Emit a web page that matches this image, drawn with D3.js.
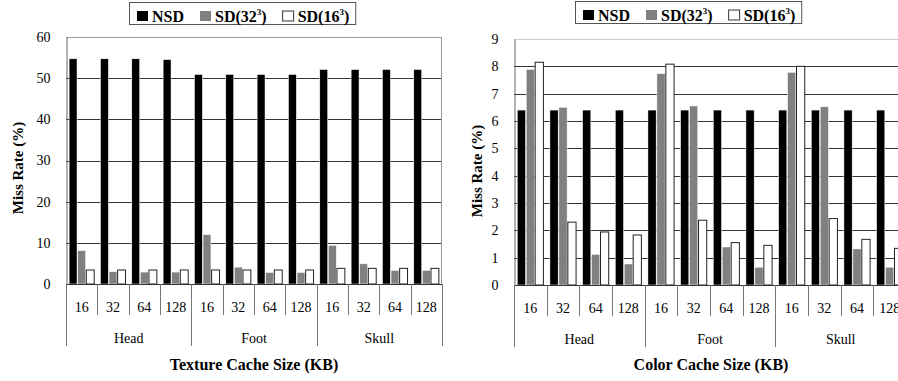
<!DOCTYPE html>
<html>
<head>
<meta charset="utf-8">
<title>Miss Rate</title>
<script src="https://cdn.jsdelivr.net/npm/d3@7"></script>
<style>
  body { margin:0; background:#fff; }
  svg, svg text { font-family:"Liberation Serif","DejaVu Serif",serif; }
  .grid line { stroke:#333; stroke-width:1; }
</style>
</head>
<body>
<div id="chart"></div>
<script>
// categories
var models = ["Head", "Foot", "Skull"];
var sizes = ["16", "32", "64", "128"];
var series = ["NSD", "SD(32", "SD(16"];

// texture cache miss rate (%), order: Head 16..128, Foot 16..128, Skull 16..128
var texNSD  = [54.7, 54.7, 54.7, 54.5, 50.9, 50.9, 50.9, 50.9, 52.1, 52.1, 52.1, 52.1];
var texSD32 = [8.1, 3.0, 2.9, 2.9, 12.0, 4.1, 2.8, 2.8, 9.4, 4.9, 3.3, 3.3];
var texSD16 = [3.4, 3.4, 3.4, 3.4, 3.4, 3.4, 3.4, 3.4, 3.8, 3.8, 3.8, 3.8];
var texTicks = [0, 10, 20, 30, 40, 50, 60];

// color cache miss rate (%)
var colNSD  = [6.4, 6.4, 6.4, 6.4, 6.4, 6.4, 6.4, 6.4, 6.4, 6.4, 6.4, 6.4];
var colSD32 = [7.89, 6.5, 1.12, 0.77, 7.73, 6.55, 1.39, 0.65, 7.78, 6.52, 1.32, 0.65];
var colSD16 = [8.15, 2.3, 1.94, 1.83, 8.08, 2.37, 1.55, 1.45, 8.0, 2.43, 1.67, 1.34];
var colTicks = [0, 1, 2, 3, 4, 5, 6, 7, 8, 9];

var fills = ["#000", "#808080", "#fff"];
var serif = "Liberation Serif, DejaVu Serif, serif";

var svg = d3.select("#chart").append("svg")
  .attr("width", 898)
  .attr("height", 381)
  .attr("font-family", serif);

function drawChart(opt) {
  var cats = [];
  models.forEach(function(m){ sizes.forEach(function(s){ cats.push(m + "|" + s); }); });
  var rows = cats.map(function(c, i){ return {cat:c, vals:[opt.a[i], opt.b[i], opt.c[i]]}; });

  var x = d3.scaleBand().domain(cats).range([opt.left, opt.right]);
  var x1 = d3.scaleBand().domain([0,1,2]).range([x.bandwidth()*0.1, x.bandwidth()*0.9]).paddingInner(0.08);
  var y = d3.scaleLinear().domain([0, d3.max(opt.ticks)]).range([opt.bottom, opt.top]);

  var g = svg.append("g").attr("font-family", serif);

  // gridlines
  g.append("g").attr("class","grid")
    .selectAll("line").data(opt.ticks.slice(1, -1)).enter().append("line")
    .attr("x1", opt.left).attr("x2", opt.right)
    .attr("y1", function(d){ return Math.round(y(d)) + 0.5; })
    .attr("y2", function(d){ return Math.round(y(d)) + 0.5; });

  // frame top/right
  g.append("line").attr("x1", opt.left).attr("x2", opt.right)
    .attr("y1", Math.round(y(d3.max(opt.ticks))) + 0.5).attr("y2", Math.round(y(d3.max(opt.ticks))) + 0.5)
    .attr("stroke", opt.frame);
  g.append("line").attr("x1", opt.right - 0.5).attr("x2", opt.right - 0.5)
    .attr("y1", opt.top).attr("y2", opt.bottom).attr("stroke", opt.frame);

  // bars
  var grp = g.selectAll(".cat").data(rows).enter().append("g")
    .attr("transform", function(d){ return "translate(" + x(d.cat) + ",0)"; });
  grp.selectAll("rect").data(function(d){ return d.vals; }).enter().append("rect")
    .attr("x", function(d, i){ return x1(i); })
    .attr("width", x1.bandwidth())
    .attr("y", function(d){ return y(d); })
    .attr("height", function(d){ return y(0) - y(d); })
    .attr("fill", function(d, i){ return fills[i]; })
    .attr("stroke", function(d, i){ return i == 2 ? "#222" : "#fff"; })
    .attr("stroke-width", function(d, i){ return i == 2 ? 1 : 0.5; });

  // y axis
  var yAxis = d3.axisLeft(y).tickValues(opt.ticks).tickSize(0).tickPadding(16);
  var ya = g.append("g").attr("transform", "translate(" + (opt.left + 0.5) + ",0)").call(yAxis);
  ya.attr("font-family", serif).attr("font-size", 14);
  ya.select(".domain").attr("stroke", "#666");
  ya.selectAll("text").attr("fill", "#000");

  // baseline
  g.append("line").attr("x1", opt.left).attr("x2", opt.right)
    .attr("y1", Math.round(y(0)) + 0.5).attr("y2", Math.round(y(0)) + 0.5).attr("stroke", "#333");

  // category separators below axis
  var base = Math.round(y(0));
  var bounds = cats.map(function(c){ return x(c); }).concat([opt.right]);
  g.selectAll(".sep").data(bounds).enter().append("line")
    .attr("x1", function(d){ return Math.round(d) + 0.5; })
    .attr("x2", function(d){ return Math.round(d) + 0.5; })
    .attr("y1", base)
    .attr("y2", function(d, i){ return (i % 4 == 0) ? base + 62 : base + 31; })
    .attr("stroke", "#777");

  // size labels
  g.selectAll(".sz").data(cats).enter().append("text")
    .attr("x", function(d){ return x(d) + x.bandwidth()/2; })
    .attr("y", base + 28)
    .attr("text-anchor", "middle").attr("font-size", 14)
    .text(function(d){ return d.split("|")[1]; });

  // model labels
  g.selectAll(".md").data(models).enter().append("text")
    .attr("x", function(d){ return x(d + "|16") + x.bandwidth()*2; })
    .attr("y", base + 59)
    .attr("text-anchor", "middle").attr("font-size", 14)
    .text(function(d){ return d; });

  // axis titles
  g.append("text")
    .attr("transform", "translate(" + opt.ytx + "," + opt.yty + ") rotate(-90)")
    .attr("text-anchor", "middle").attr("font-weight", "bold").attr("font-size", 15)
    .text("Miss Rate (%)");
  g.append("text")
    .attr("x", opt.xtx).attr("y", 370)
    .attr("text-anchor", "middle").attr("font-weight", "bold").attr("font-size", 16)
    .text(opt.xtitle);

  // legend
  var lg = g.append("g").attr("transform", "translate(" + opt.lx + "," + opt.ly + ")");
  var box = lg.append("rect").attr("fill", "#fff").attr("stroke", "#555");
  var cx = 8;
  series.forEach(function(s, i){
    lg.append("rect").attr("x", cx).attr("y", 9).attr("width", 11).attr("height", 10)
      .attr("fill", fills[i]).attr("stroke", i == 2 ? "#333" : "none");
    cx += 15;
    var t = lg.append("text").attr("x", cx).attr("y", 20)
      .attr("font-weight", "bold").attr("font-size", 16);
    t.append("tspan").text(s);
    if (i > 0) {
      t.append("tspan").attr("font-size", 9).attr("dy", -7).text("3");
      t.append("tspan").attr("dy", 7).text(")");
    }
    cx += t.node().getComputedTextLength() + 16;
  });
  box.attr("x", 0.5).attr("y", 0.5).attr("width", cx - 10).attr("height", 22);
}

drawChart({
  a: texNSD, b: texSD32, c: texSD16, ticks: texTicks,
  left: 66, right: 442, top: 37, bottom: 284, frame: "#999",
  ytx: 23, yty: 168, xtx: 254, xtitle: "Texture Cache Size (KB)",
  lx: 129, ly: 2
});

drawChart({
  a: colNSD, b: colSD32, c: colSD16, ticks: colTicks,
  left: 514, right: 906, top: 39, bottom: 285, frame: "#ccc",
  ytx: 482, yty: 171, xtx: 711, xtitle: "Color Cache Size (KB)",
  lx: 575, ly: 1
});
</script>
</body>
</html>
